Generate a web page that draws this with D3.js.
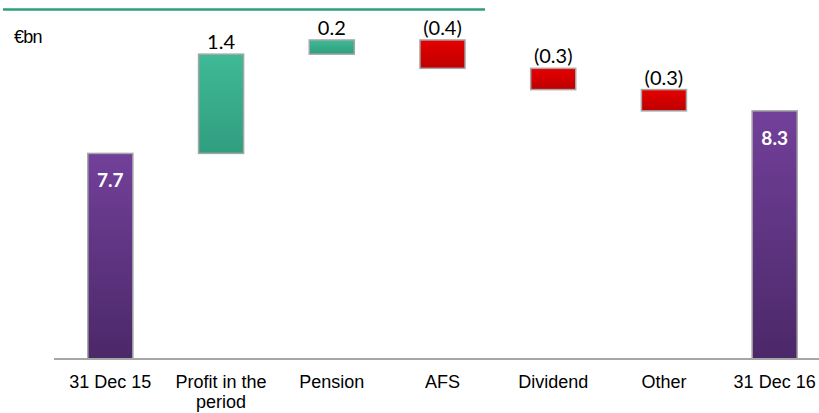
<!DOCTYPE html>
<html>
<head>
<meta charset="utf-8">
<script src="https://cdn.jsdelivr.net/npm/d3@7"></script>
<style>
  html, body { margin: 0; padding: 0; background: #fff; }
  svg { display: block; }
  .cat text { font-family: "Liberation Sans", Arial, sans-serif; font-size: 18px; fill: #000; }
  .val { font-family: Lato, "Open Sans", sans-serif; font-size: 20px; fill: #000; }
  .tot { font-family: Lato, "Open Sans", sans-serif; font-size: 19px; font-weight: 700; fill: #fff; }
</style>
</head>
<body>
<svg id="chart" width="819" height="413"></svg>
<script>
// Equity bridge, €bn
const categories = ["31 Dec 15", "Profit in the period", "Pension", "AFS", "Dividend", "Other", "31 Dec 16"];
const categoryLines = [["31 Dec 15"], ["Profit in the", "period"], ["Pension"], ["AFS"], ["Dividend"], ["Other"], ["31 Dec 16"]];
const values = [7.7, 1.4, 0.2, -0.4, -0.3, -0.3, 8.3];
const isTotal = [true, false, false, false, false, false, true];
const unitLabel = "€bn";
const yDomain = [4.8, 9.5];

const W = 819, H = 413;
const svg = d3.select("#chart");

const x = d3.scaleBand()
  .domain(categories)
  .range([55, 830])
  .paddingInner(0.593)
  .paddingOuter(0.2965);

const y = d3.scaleLinear().domain(yDomain).range([359, 25.8]);

// running start/end for each step of the bridge
let level = 0;
const steps = categories.map((c, i) => {
  let lo, hi;
  if (isTotal[i]) {
    lo = yDomain[0]; hi = values[i]; level = values[i];
  } else {
    const next = level + values[i];
    lo = Math.min(level, next); hi = Math.max(level, next);
    level = next;
  }
  return { c, v: values[i], lo, hi, total: isTotal[i], i };
});

// gradients
const defs = svg.append("defs");
const grads = {
  total: ["#72409a", "#4b2868"],
  up: ["#3fb996", "#2f9e7f"],
  down: ["#e60000", "#bd0000"]
};
Object.entries(grads).forEach(([k, [a, b]]) => {
  const g = defs.append("linearGradient").attr("id", "g-" + k)
    .attr("x1", 0).attr("y1", 0).attr("x2", 0).attr("y2", 1);
  g.append("stop").attr("offset", "0%").attr("stop-color", a);
  g.append("stop").attr("offset", "100%").attr("stop-color", b);
});

// top rule
svg.append("line")
  .attr("x1", 3).attr("x2", 485).attr("y1", 9.5).attr("y2", 9.5)
  .attr("stroke", "#2e9e7e").attr("stroke-width", 2.5);

// unit label
svg.append("text")
  .attr("x", 14).attr("y", 43)
  .attr("font-family", "'Liberation Sans', Arial, sans-serif")
  .attr("font-size", 18).attr("letter-spacing", -0.8)
  .text(unitLabel);

// bars
svg.append("g").selectAll("rect").data(steps).join("rect")
  .attr("x", d => x(d.c))
  .attr("width", x.bandwidth())
  .attr("y", d => y(d.hi))
  .attr("height", d => y(d.lo) - y(d.hi))
  .attr("fill", d => d.total ? "url(#g-total)" : (d.v >= 0 ? "url(#g-up)" : "url(#g-down)"))
  .attr("stroke", "#a6a6a6")
  .attr("stroke-width", 1.5);

// baseline
svg.append("line")
  .attr("x1", 54).attr("x2", W).attr("y1", y(yDomain[0])).attr("y2", y(yDomain[0]))
  .attr("stroke", "#a6a6a6").attr("stroke-width", 2);

const fmt = v => (v < 0 ? "(" + d3.format(".1f")(-v) + ")" : d3.format(".1f")(v));

// value labels
svg.append("g").selectAll("text").data(steps.filter(d => !d.total)).join("text")
  .attr("class", "val")
  .attr("x", d => x(d.c) + x.bandwidth() / 2)
  .attr("y", d => y(d.hi) - 5)
  .attr("text-anchor", "middle")
  .text(d => fmt(d.v));

svg.append("g").selectAll("text").data(steps.filter(d => d.total)).join("text")
  .attr("class", "tot")
  .attr("x", d => x(d.c) + x.bandwidth() / 2)
  .attr("y", d => y(d.hi) + 34)
  .attr("text-anchor", "middle")
  .text(d => fmt(d.v));

// category axis
const axis = d3.axisBottom(x).tickSize(0).tickPadding(0).tickFormat(() => "");
const ax = svg.append("g").attr("class", "cat")
  .attr("transform", `translate(0,${y(yDomain[0])})`)
  .call(axis);
ax.select(".domain").remove();
ax.selectAll(".tick text").each(function(d, i) {
  const t = d3.select(this).attr("y", 29).attr("dy", null).text(null);
  categoryLines[i].forEach((line, j) => {
    t.append("tspan").attr("x", 0).attr("dy", j === 0 ? 0 : 20).text(line);
  });
});
</script>
</body>
</html>
